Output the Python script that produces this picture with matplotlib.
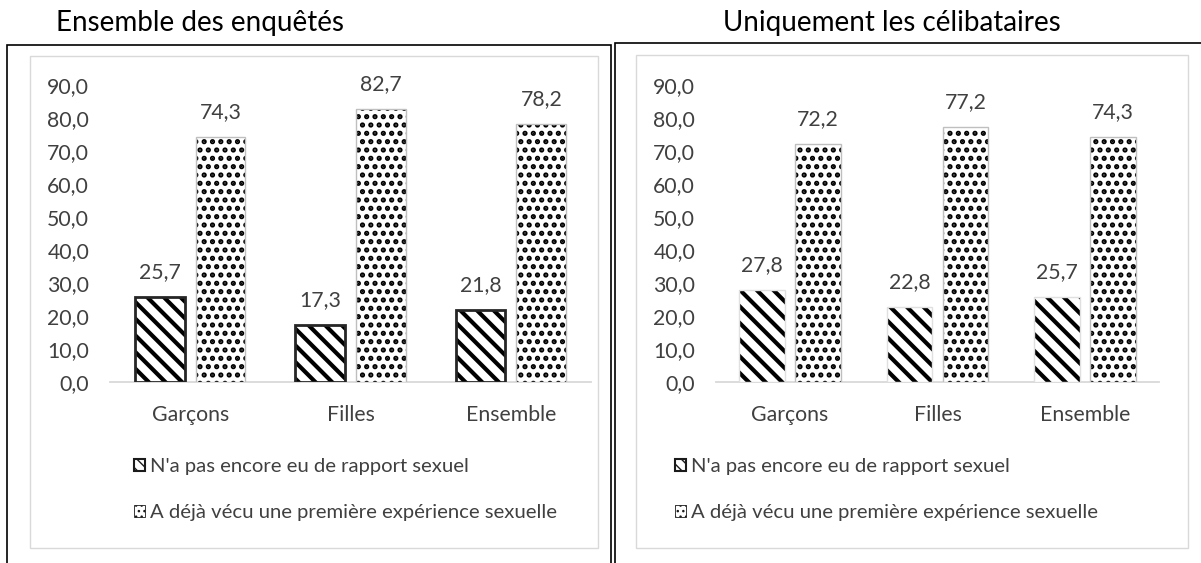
import matplotlib
matplotlib.use("Agg")
import matplotlib.pyplot as plt
from matplotlib.patches import Rectangle
import numpy as np

# ---------------- data ----------------
categories = ['Garçons', 'Filles', 'Ensemble']
series_labels = ["N'a pas encore eu de rapport sexuel",
                 "A déjà vécu une première expérience sexuelle"]
all_no = [25.7, 17.3, 21.8]
all_yes = [74.3, 82.7, 78.2]
single_no = [27.8, 22.8, 25.7]
single_yes = [72.2, 77.2, 74.3]
titles = ['Ensemble des enquêtés', 'Uniquement les célibataires']
yticks = list(range(0, 91, 10))

# ---------------- figure ----------------
plt.rcParams['font.family'] = ['Lato', 'DejaVu Sans']
W, H = 1201, 563
fig = plt.figure(figsize=(W / 100, H / 100), dpi=100)

TXT = '#404040'
FS = 15.3
FS_LEG = 14.6
HATCH_NO = '\\\\'
HATCH_YES = '..'


def fx(px):
    return px / W


def fy(py):
    return 1 - py / H


def fmt(v):
    return f"{v:.1f}".replace('.', ',')


def panel(x0, x1, no_vals, yes_vals, title, title_x, outer, inner,
          leg_x, hatched_edge, hatched_lw):
    # decoration boxes (figure coords)
    ox0, ox1, oy0 = outer
    fig.add_artist(Rectangle((fx(ox0), fy(H + 5)), fx(ox1) - fx(ox0), (H + 5 - oy0) / H,
                             transform=fig.transFigure, fill=False,
                             edgecolor='black', lw=1.2, clip_on=False))
    ix0, ix1, iy0, iy1 = inner
    fig.add_artist(Rectangle((fx(ix0), fy(iy1)), fx(ix1) - fx(ix0), (iy1 - iy0) / H,
                             transform=fig.transFigure, fill=False,
                             edgecolor='#d9d9d9', lw=1.0))
    fig.text(fx(title_x), fy(23), title, ha='center', va='center',
             fontsize=20, color='black')

    ytop, ybot = 85, 382
    ax = fig.add_axes([fx(x0), fy(ybot), fx(x1) - fx(x0), (ybot - ytop) / H])
    ax.set_facecolor('none')
    x = np.arange(len(categories))
    w = 0.31
    off = 0.19

    with plt.rc_context({'hatch.linewidth': 3.0}):
        ax.bar(x - off, no_vals, w, color='white', edgecolor='black',
               hatch=HATCH_NO, linewidth=0, zorder=2)
    ax.bar(x - off, no_vals, w, facecolor='none', edgecolor=hatched_edge,
           linewidth=hatched_lw, zorder=3)
    with plt.rc_context({'hatch.linewidth': 2.5}):
        ax.bar(x + off, yes_vals, w, color='white', edgecolor='black',
               hatch=HATCH_YES, linewidth=0, zorder=2)
    ax.bar(x + off, yes_vals, w, facecolor='none', edgecolor='#bfbfbf',
           linewidth=1.0, zorder=3)

    for xi, v in zip(x - off, no_vals):
        ax.annotate(fmt(v), (xi, v), xytext=(0, 18), textcoords='offset points',
                    ha='center', va='center', fontsize=FS, color=TXT)
    for xi, v in zip(x + off, yes_vals):
        ax.annotate(fmt(v), (xi, v), xytext=(0, 18), textcoords='offset points',
                    ha='center', va='center', fontsize=FS, color=TXT)

    ax.set_xlim(-0.5, 2.5)
    ax.set_ylim(0, 90)
    ax.set_yticks(yticks)
    ax.set_yticklabels([fmt(t) for t in yticks], fontsize=FS, color=TXT)
    ax.set_xticks(x)
    ax.set_xticklabels(categories, fontsize=FS, color=TXT)
    ax.tick_params(axis='y', length=0, pad=15)
    ax.tick_params(axis='x', length=0, pad=16.5)
    for s in ['left', 'right', 'top']:
        ax.spines[s].set_visible(False)
    ax.spines['bottom'].set_color('#d9d9d9')
    ax.spines['bottom'].set_linewidth(1.3)
    ax.spines['bottom'].set_zorder(1)

    # legend proxies
    with plt.rc_context({'hatch.linewidth': 1.5}):
        h1 = Rectangle((0, 0), 1, 1, facecolor='white', edgecolor='#1a1a1a',
                       hatch='\\\\\\', linewidth=1.5)
    with plt.rc_context({'hatch.linewidth': 2.0}):
        h2 = Rectangle((0, 0), 1, 1, facecolor='white', edgecolor='#1a1a1a',
                       hatch='...', linewidth=0.6)
    leg = ax.legend([h1, h2], series_labels, loc='upper left',
                    bbox_to_anchor=(fx(leg_x), fy(458)),
                    bbox_transform=fig.transFigure, frameon=False,
                    fontsize=FS_LEG, handlelength=0.55, handleheight=0.55,
                    handletextpad=0.25, labelspacing=1.45, borderpad=0,
                    borderaxespad=0)
    for t in leg.get_texts():
        t.set_color(TXT)
    return ax


panel(110, 591, all_no, all_yes, titles[0], 200,
      outer=(7, 611, 45), inner=(30, 598, 56, 548), leg_x=134,
      hatched_edge='#262626', hatched_lw=2.0)
panel(716, 1159, single_no, single_yes, titles[1], 892,
      outer=(615, 1206, 43), inner=(636, 1188, 55, 548), leg_x=675,
      hatched_edge='#e0e0e0', hatched_lw=1.0)

fig.savefig('out.png', dpi=100)
